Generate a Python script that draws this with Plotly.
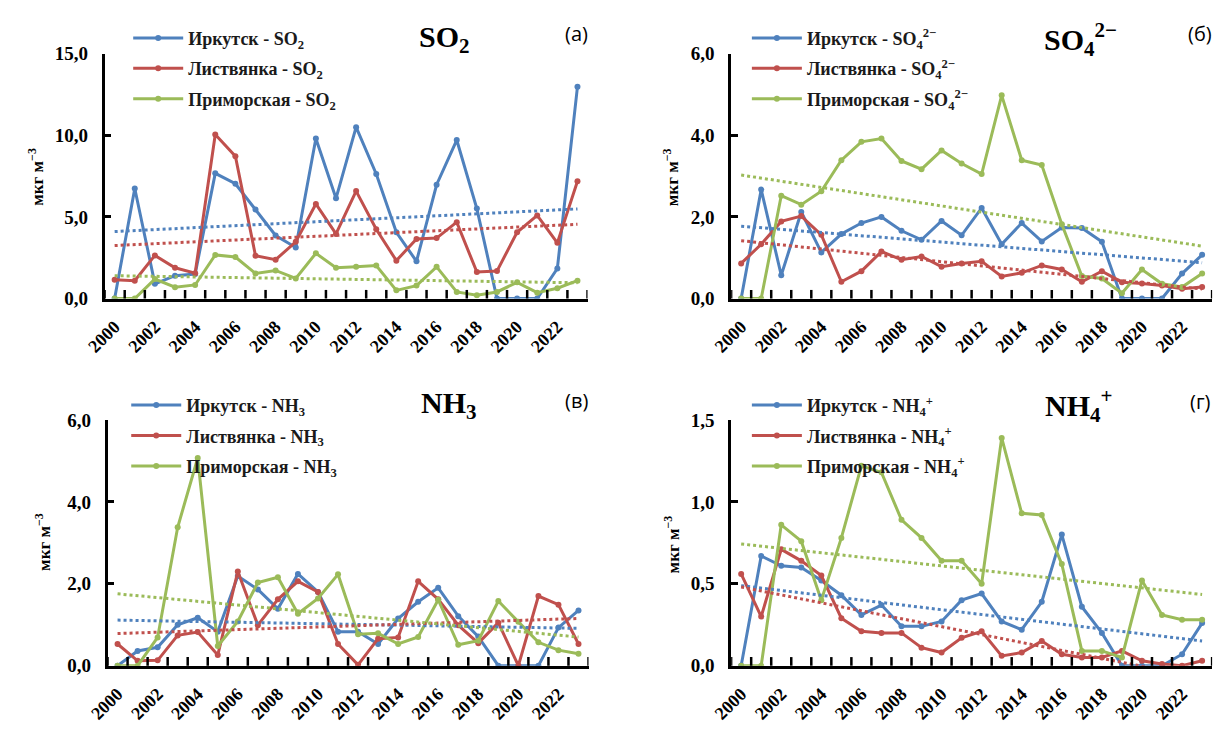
import numpy as np
import plotly.graph_objects as go

# years and values
years = list(range(2000, 2024))

irk_so2 = [0, 6.74, 0.9, 1.4, 1.5, 7.67, 7.03, 5.45, 3.86, 3.13, 9.8, 6.14,
           10.5, 7.63, 4.06, 2.28, 6.97, 9.71, 5.51, 0, 0, 0, 1.84, 12.98]
lis_so2 = [1.15, 1.09, 2.64, 1.88, 1.55, 10.05, 8.72, 2.62, 2.38, 3.47, 5.79, 3.96,
           6.58, 4.24, 2.32, 3.65, 3.7, 4.68, 1.62, 1.68, 4.06, 5.09, 3.41, 7.19]
pri_so2 = [0, 0, 1.19, 0.69, 0.83, 2.67, 2.54, 1.53, 1.72, 1.23, 2.77, 1.88,
           1.94, 2.02, 0.5, 0.79, 1.94, 0.4, 0.2, 0.4, 0.99, 0.36, 0.63, 1.09]

irk_so4 = [0, 2.67, 0.57, 2.12, 1.13, 1.58, 1.85, 2.0, 1.66, 1.44, 1.9, 1.55,
           2.22, 1.33, 1.85, 1.4, 1.74, 1.73, 1.39, 0, 0, 0, 0.61, 1.07]
lis_so4 = [0.86, 1.33, 1.89, 2.02, 1.56, 0.41, 0.67, 1.15, 0.95, 1.03, 0.78, 0.86,
           0.91, 0.54, 0.63, 0.81, 0.71, 0.41, 0.67, 0.4, 0.37, 0.32, 0.24, 0.28]
pri_so4 = [0, 0, 2.52, 2.3, 2.63, 3.39, 3.84, 3.92, 3.37, 3.17, 3.63, 3.31,
           3.05, 4.98, 3.39, 3.27, 1.82, 0.55, 0.49, 0.13, 0.71, 0.36, 0.28, 0.61]

irk_nh3 = [0, 0.36, 0.45, 1.0, 1.17, 0.83, 2.19, 1.86, 1.39, 2.24, 1.8, 0.83,
           0.83, 0.53, 1.15, 1.56, 1.9, 1.21, 0.71, 0, 0, 0, 0.93, 1.35]
lis_nh3 = [0.53, 0.12, 0.13, 0.74, 0.82, 0.26, 2.3, 0.99, 1.62, 2.06, 1.8, 0.53,
           0.02, 0.66, 0.69, 2.06, 1.62, 0.99, 0.55, 1.05, 0, 1.7, 1.49, 0.53]
pri_nh3 = [0, 0, 0.69, 3.38, 5.07, 0.48, 1.08, 2.03, 2.16, 1.27, 1.64, 2.23,
           0.77, 0.79, 0.53, 0.7, 1.61, 0.51, 0.61, 1.58, 1.07, 0.57, 0.38, 0.29]

irk_nh4 = [0, 0.67, 0.61, 0.6, 0.52, 0.43, 0.31, 0.37, 0.24, 0.24, 0.27, 0.4,
           0.44, 0.27, 0.22, 0.39, 0.8, 0.36, 0.2, 0, 0, 0, 0.07, 0.26]
lis_nh4 = [0.56, 0.3, 0.71, 0.64, 0.55, 0.29, 0.21, 0.2, 0.2, 0.11, 0.08, 0.17,
           0.21, 0.06, 0.08, 0.15, 0.07, 0.05, 0.05, 0.09, 0.03, 0.01, 0.0, 0.03]
pri_nh4 = [0, 0, 0.86, 0.76, 0.4, 0.78, 1.22, 1.18, 0.89, 0.78, 0.64, 0.64,
           0.5, 1.39, 0.93, 0.92, 0.62, 0.09, 0.09, 0.05, 0.52, 0.31, 0.28, 0.28]

stations = ["Иркутск", "Листвянка", "Приморская"]
colors = ["#4F81BD", "#C0504D", "#9BBB59"]

W, H = 1219, 734
SERIF = "Liberation Serif"


def px(x):
    return x / W


def py(y):
    return 1 - y / H


panels = [
    dict(sp="SO<sub>2</sub>", data=[irk_so2, lis_so2, pri_so2], ymax=15, dt=5,
         xr=(86, 577), yr=(45, 297), letter="(а)", tpos=(432, 30), lpos=(566, 24),
         ypos=(16, 172), leg=(110, 10)),
    dict(sp="SO<sub>4</sub><sup>2−</sup>", data=[irk_so4, lis_so4, pri_so4], ymax=6, dt=2,
         xr=(723, 1212), yr=(45, 297), letter="(б)", tpos=(1078, 30), lpos=(1200, 24),
         ypos=(662, 172), leg=(739, 10)),
    dict(sp="NH<sub>3</sub>", data=[irk_nh3, lis_nh3, pri_nh3], ymax=6, dt=2,
         xr=(89, 578), yr=(422, 675), letter="(в)", tpos=(436, 407), lpos=(566, 402),
         ypos=(24, 548), leg=(108, 388)),
    dict(sp="NH<sub>4</sub><sup>+</sup>", data=[irk_nh4, lis_nh4, pri_nh4], ymax=1.5, dt=0.5,
         xr=(723, 1212), yr=(422, 675), letter="(г)", tpos=(1076, 407), lpos=(1200, 403),
         ypos=(663, 550), leg=(739, 388)),
]

fig = go.Figure()
annotations = []
shapes = []
idx = np.arange(len(years))
# category boundaries between the yearly points
bounds = [y - 0.5 for y in years] + [years[-1] + 0.5]

for i, p in enumerate(panels):
    n = "" if i == 0 else str(i + 1)
    xa, ya = "x" + n, "y" + n
    leg = "legend" + n
    for k, vals in enumerate(p["data"]):
        fig.add_trace(go.Scatter(
            x=years, y=vals, mode="lines+markers",
            name=f"{stations[k]} - {p['sp']}",
            line=dict(color=colors[k], width=3),
            marker=dict(color=colors[k], size=6),
            xaxis=xa, yaxis=ya, legend=leg, legendgroup=f"{i}-{k}",
        ))
    # linear trend lines, as in the original spreadsheet
    for k, vals in enumerate(p["data"]):
        a, b = np.polyfit(idx, vals, 1)
        fig.add_trace(go.Scatter(
            x=years, y=a * idx + b, mode="lines",
            line=dict(color=colors[k], width=3, dash="dot"),
            showlegend=False, hoverinfo="skip", xaxis=xa, yaxis=ya,
        ))

    # labels every second year
    fig.layout["xaxis" + n] = dict(
        domain=[px(p["xr"][0]), px(p["xr"][1])], anchor=ya,
        range=[bounds[0], bounds[-1]],
        tickmode="linear", tick0=years[0], dtick=2, tickformat="d", ticks="",
        tickangle=-45, showline=True, linecolor="black", linewidth=2.5,
        showgrid=False, zeroline=False, ticklabelstandoff=8,
        tickfont=dict(family=SERIF, size=18, color="black", weight="bold"),
    )
    fig.layout["yaxis" + n] = dict(
        domain=[py(p["yr"][1]), py(p["yr"][0])], anchor=xa,
        range=[0, p["ymax"]], dtick=p["dt"], tick0=0, tickformat=".1f",
        ticks="inside", ticklen=7, tickwidth=2.5, tickcolor="black",
        showline=True, linecolor="black", linewidth=2.5,
        showgrid=False, zeroline=False, ticklabelstandoff=10,
        tickfont=dict(family=SERIF, size=19, color="black", weight="bold"),
    )
    # short upward tick marks on the x axis between the years
    for bx in bounds:
        shapes.append(dict(
            type="line", xref=xa, yref=ya + " domain", x0=bx, x1=bx, y0=0, y1=0.035,
            line=dict(color="black", width=2.5), layer="above",
        ))
    fig.layout[leg] = dict(
        x=px(p["leg"][0]), y=py(p["leg"][1]), xanchor="left", yanchor="top",
        bgcolor="rgba(0,0,0,0)", tracegroupgap=4, traceorder="grouped", itemwidth=50,
        font=dict(family=SERIF, size=18, color="#1a1a1a", weight="bold"),
    )
    annotations.append(dict(
        text=p["sp"], x=px(p["tpos"][0]), y=py(p["tpos"][1]), xref="paper", yref="paper",
        xanchor="center", yanchor="middle", showarrow=False,
        font=dict(family=SERIF, size=30, color="black", weight="bold"),
    ))
    annotations.append(dict(
        text=p["letter"], x=px(p["lpos"][0]), y=py(p["lpos"][1]), xref="paper", yref="paper",
        xanchor="center", yanchor="middle", showarrow=False,
        font=dict(family="Open Sans", size=20, color="black"),
    ))
    annotations.append(dict(
        text="мкг м<sup>−3</sup>", x=px(p["ypos"][0]), y=py(p["ypos"][1]),
        xref="paper", yref="paper", xanchor="center", yanchor="middle",
        textangle=-90, showarrow=False,
        font=dict(family=SERIF, size=17, color="black", weight="bold"),
    ))

fig.update_layout(
    width=W, height=H, margin=dict(l=0, r=0, t=0, b=0),
    plot_bgcolor="white", paper_bgcolor="white",
    separators=", ", annotations=annotations, shapes=shapes,
)

# the page body has a default margin; drop it so the figure sits at (0, 0)
fig.write_html("out.html", config={"displayModeBar": False},
               post_script="document.body.style.margin = '0';")
